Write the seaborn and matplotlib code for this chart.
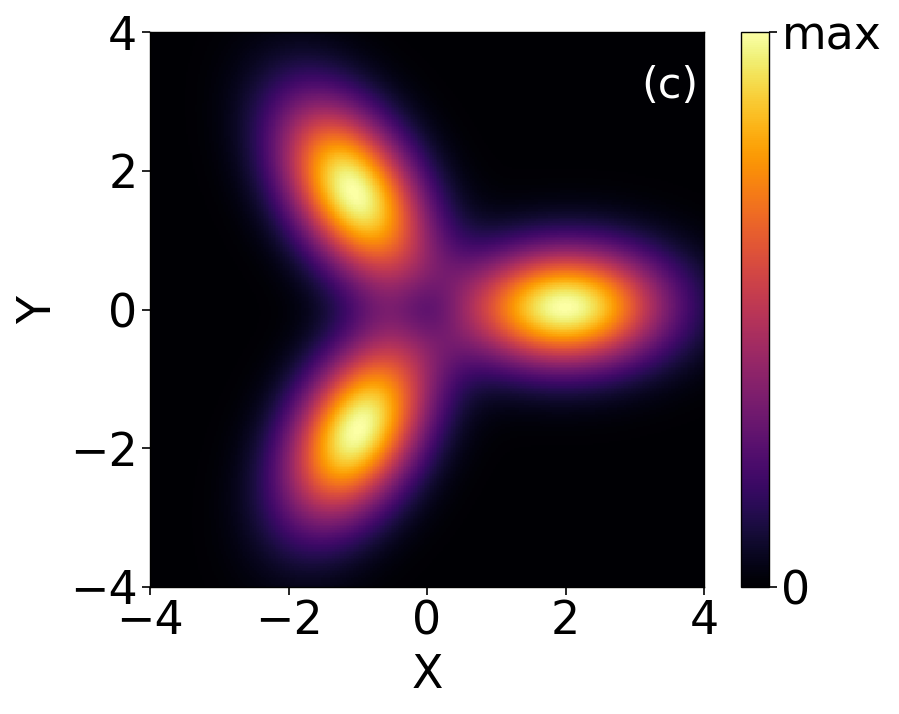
import numpy as np
import pandas as pd
import matplotlib
matplotlib.use("Agg")
import matplotlib.pyplot as plt
import seaborn as sns

# ---- data ----
lobe_radius = [2.0, 2.0, 2.0]          # distance of each lobe centre from origin
lobe_angle_deg = [1.0, 122.0, 240.0]   # direction of each lobe centre
lobe_amp = [1.0, 1.0, 1.0]             # relative peak height
lobe_sigma_radial = [1.0, 1.0, 1.0]    # width along the radial direction
lobe_sigma_tangential = [0.6, 0.6, 0.6]  # width across
dip_x = [0.0]
dip_y = [0.0]
dip_amp = [0.13]
dip_sigma = [0.35]

axis_ticks = [-4, -2, 0, 2, 4]
axis_limits = [-4.0, 4.0]
cbar_labels = ["0", "max"]
panel_label = "(c)"

# ---- build the field ----
N = 320
xs = np.linspace(axis_limits[0], axis_limits[1], N)
ys = np.linspace(axis_limits[1], axis_limits[0], N)  # top row = +4
X, Y = np.meshgrid(xs, ys)
Z = np.zeros_like(X)
for r0, ang, a, sr, st in zip(lobe_radius, lobe_angle_deg, lobe_amp,
                              lobe_sigma_radial, lobe_sigma_tangential):
    th = np.deg2rad(ang)
    ux, uy = np.cos(th), np.sin(th)
    cx, cy = r0 * ux, r0 * uy
    dr = (X - cx) * ux + (Y - cy) * uy
    dt = -(X - cx) * uy + (Y - cy) * ux
    Z += a * np.exp(-dr**2 / (2 * sr**2) - dt**2 / (2 * st**2))
for dx, dy, da, ds in zip(dip_x, dip_y, dip_amp, dip_sigma):
    Z -= da * np.exp(-((X - dx)**2 + (Y - dy)**2) / (2 * ds**2))
Z = np.clip(Z, 0, None)
vmax = Z.max()
df = pd.DataFrame(Z, index=ys, columns=xs)

# ---- plot ----
sns.set_theme(style="white")
plt.rcParams['font.family'] = ['DejaVu Sans']
plt.rcParams['text.color'] = 'black'
plt.rcParams['axes.labelcolor'] = 'black'
plt.rcParams['xtick.color'] = 'black'
plt.rcParams['ytick.color'] = 'black'
FS = 33

fig = plt.figure(figsize=(8.99, 7.14), dpi=100)
W, H = 899, 714
ax = fig.add_axes([150 / W, 1 - 587 / H, 554 / W, 555 / H])
cax = fig.add_axes([741 / W, 1 - 587 / H, 28 / W, 555 / H])

sns.heatmap(df, ax=ax, cmap="inferno", vmin=0, vmax=vmax, cbar_ax=cax,
            cbar_kws={"ticks": [0, vmax]}, rasterized=True,
            xticklabels=False, yticklabels=False)

ax.set_xticks([(v - axis_limits[0]) / (axis_limits[1] - axis_limits[0]) * N for v in axis_ticks])
ax.set_xticklabels([f"{v:d}".replace("-", "\u2212") for v in axis_ticks], fontsize=FS, rotation=0, color="black")
ax.set_yticks([(axis_limits[1] - v) / (axis_limits[1] - axis_limits[0]) * N for v in axis_ticks])
ax.set_yticklabels([f"{v:d}".replace("-", "\u2212") for v in axis_ticks], fontsize=FS, rotation=0, color="black")
ax.tick_params(axis="both", length=6, width=1.2, color="black", bottom=True, left=True, pad=3)
ax.set_xlabel("X", fontsize=FS, color="black", labelpad=6)
ax.set_ylabel("Y", fontsize=FS, color="black", labelpad=6)
for s in ax.spines.values():
    s.set_visible(True)
    s.set_color("black")
    s.set_linewidth(1.0)

ax.text((3.92 - axis_limits[0]) / 8 * N, (axis_limits[1] - 3.22) / 8 * N, panel_label,
        color="white", fontsize=FS - 2, ha="right", va="center")

cax.set_yticklabels(cbar_labels, fontsize=FS, color="black")
cax.tick_params(axis="y", length=6, width=1.2, color="black", right=True, pad=3)
cb = ax.collections[0].colorbar
cb.outline.set_visible(True)
cb.outline.set_edgecolor("black")
cb.outline.set_linewidth(1.0)

fig.savefig("out.png", dpi=100)
